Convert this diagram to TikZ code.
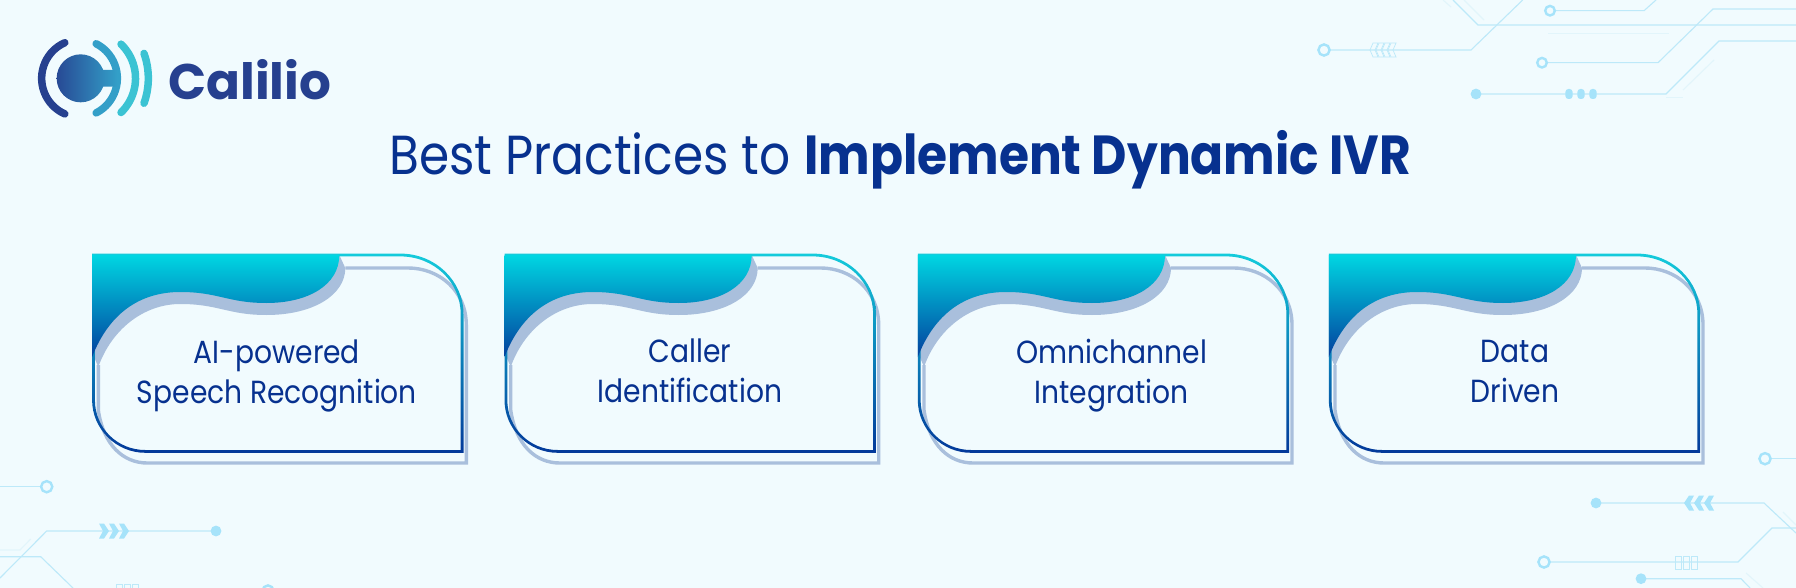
\documentclass[tikz,border=0pt]{standalone}
\usepackage{fontspec}
\setmainfont{Poppins}
\newfontfamily\cardfont[FakeStretch=0.88]{Poppins}
\newfontfamily\titlefont[FakeStretch=0.885]{Poppins}
\newfontfamily\logofont{Poppins}
\definecolor{bgc}{HTML}{F1FBFE}
\definecolor{navy}{HTML}{07318F}
\definecolor{shadowc}{HTML}{A9BFDC}
\definecolor{tealtop}{HTML}{00D6E2}
\definecolor{tealmid}{HTML}{0598BC}
\definecolor{tealbot}{HTML}{03409E}
\definecolor{edgetop}{HTML}{14CBDB}
\definecolor{edgemid}{HTML}{0E8ABF}
\definecolor{edgebot}{HTML}{03399A}
\definecolor{circ}{HTML}{BDE9F9}
\definecolor{circfaint}{HTML}{E2F5FB}
\definecolor{circdot}{HTML}{A6E3FA}
\definecolor{logoblue}{HTML}{26408F}
\definecolor{logomid}{HTML}{339FC8}
\definecolor{logoteal}{HTML}{3BC3D3}
\tikzset{
  circline/.style={draw=circ,line width=1.1pt},
  faintline/.style={draw=circfaint,line width=1.1pt},
  ringdot/.style={draw=circdot,line width=2.4pt,fill=bgc},
  fulldot/.style={fill=circdot},
  chev/.style={fill=circdot},
  glyphbox/.style={draw=circ,line width=.7pt},
  cardtext/.style={anchor=base,text=navy,font=\cardfont\fontsize{32}{32}\selectfont,inner sep=0pt},
  logoarc/.style={line width=7.5pt,line cap=round},
}
\newcommand{\cardbase}[1]{%
  \begin{scope}[shift={(#1,240)}]
    \draw[shadowc,line width=3.4pt] (252,28) -- (315,28) .. controls (345,28) and (373,50) .. (373,85)
      -- (373,223) -- (54,223) .. controls (30,223) and (10,205) .. (5,170) -- (5,125);
    \fill[shadowc] (246,15) -- (252,28) .. controls (252,55) and (220,75) .. (173,75)
      .. controls (135,75) and (125,64) .. (87,64) .. controls (50,64) and (18,90) .. (5,127)
      -- (0,115) -- (0,15) -- cycle;
    \shade[even odd rule,top color=edgetop,middle color=edgemid,bottom color=edgebot]
      (-1.2,13.6) -- (307,13.6) .. controls (342,13.6) and (370.2,41) .. (370.2,74) -- (370.2,212.8) -- (52,212.8)
      .. controls (23,212.8) and (-1.2,189) .. (-1.2,160) -- cycle
      (1.6,16.4) -- (307,16.4) .. controls (340.6,16.4) and (367.4,42) .. (367.4,74) -- (367.4,210) -- (52,210)
      .. controls (24,210) and (1.6,188) .. (1.6,160) -- cycle;
    \shade[top color=tealtop,middle color=tealmid,bottom color=tealbot]
      (-1.2,15) -- (246,15) .. controls (246,45) and (215,63) .. (173,63)
      .. controls (135,63) and (125,52) .. (87,52) .. controls (45,52) and (15,75) .. (-1.2,117) -- cycle;
  \end{scope}}
\begin{document}
\begin{tikzpicture}[x=1pt,y=-1pt]
\path[use as bounding box,fill=bgc] (0,0) rectangle (1796,588);
% circuit decoration, top right
\draw[circline] (1324,50) -- (1471,50) -- (1522.7,0);
\draw[circline] (1550,10.7) -- (1644,10.7) -- (1656,0);
\draw[circline] (1453,0) -- (1478,25) -- (1796,25);
\draw[faintline] (1443,0) -- (1451,7);
\draw[faintline] (1464,0) -- (1484,20);
\draw[faintline] (1548,33.5) -- (1669,33.5);
\draw[circline] (1542,62.7) -- (1658,62.7) -- (1713,9) -- (1796,9);
\draw[circline] (1476,94) -- (1666,94) -- (1719,41) -- (1796,41);
\draw[faintline] (1683,90) -- (1714,60);
\draw[faintline] (1666,97.7) -- (1683,97.7);
\draw[ringdot] (1324,50) circle (5.6);
\draw[ringdot] (1550,10.7) circle (4.8);
\draw[ringdot] (1542,62.7) circle (4.8);
\fill[fulldot] (1476,94) circle (5.4);
\foreach \x in {1569,1581,1593} \fill[fulldot,rounded corners=3pt] (\x-3.6,89) rectangle (\x+3.6,99);
\foreach \x in {1373,1379,1385,1391}
  \draw[glyphbox] (\x,43) -- (\x+5,43) -- (\x+2,50) -- (\x+5,57) -- (\x,57) -- (\x-3,50) -- cycle;
% circuit decoration, bottom right
\draw[circline] (1765,458.7) -- (1796,458.7);
\draw[circline] (1596,503) -- (1764,503) -- (1796,533);
\draw[circline] (1544,562) -- (1738,562) -- (1772,528) -- (1796,528);
\draw[circline] (1641,578.7) -- (1741,578.7) -- (1750,588);
\draw[faintline] (1746,573) -- (1763,588);
\draw[faintline] (1783,512) -- (1796,525);
\draw[ringdot] (1765,458.7) circle (5.6);
\draw[ringdot] (1544,562) circle (5.6);
\fill[fulldot] (1596,503) circle (5.4);
\fill[fulldot] (1641,578.7) circle (5.4);
\foreach \x in {1684,1694,1704}
  \fill[chev] (\x,503) -- (\x+5,495.5) -- (\x+10,495.5) -- (\x+6,503) -- (\x+10,510.5) -- (\x+5,510.5) -- cycle;
\foreach \x in {1675,1683,1691}
  \draw[glyphbox] (\x,556) rectangle (\x+6,569);
% circuit decoration, bottom left
\draw[circline] (0,486.7) -- (46.7,486.7);
\draw[circline] (216,531) -- (46.7,531) -- (0,578);
\draw[circline] (0,556.7) -- (40.7,556.7) -- (73,588);
\draw[faintline] (0,550) -- (20,550) -- (30.7,539);
\draw[ringdot] (46.7,486.7) circle (5.6);
\draw[ringdot] (268,591) circle (5.6);
\fill[fulldot] (216,531) circle (5.4);
\foreach \x in {99,109,119}
  \fill[chev] (\x+10,531) -- (\x+5,523.5) -- (\x,523.5) -- (\x+4,531) -- (\x,538.5) -- (\x+5,538.5) -- cycle;
\foreach \x in {116,124,132}
  \draw[glyphbox] (\x,584) rectangle (\x+6,596);
% logo
\begin{scope}[shift={(20,20)},x=0.3333pt,y=-0.3333pt]
  \draw[logoarc,logoblue] (182,175) ++(114:117) arc (114:246:117);
  \draw[logoarc,logomid] (175.5,175) ++(63:116.5) arc (63:-63:116.5);
  \draw[logoarc,logoteal] (204,175) ++(46:142.6) arc (46:-46:142.6);
  \draw[logoarc,logoteal] (162,175) ++(19.6:223) arc (19.6:-19.6:223);
  \shade[left color=logoblue!90!logomid,right color=logomid]
    (182,175) circle (72) (292,150) rectangle (230,200);
\end{scope}
\node[anchor=base west,inner sep=0pt,text=logoblue,font=\logofont\bfseries\fontsize{50}{50}\selectfont] (logoname) at (168,100) {Calilio};
% title
\node[anchor=base west,inner sep=0pt,text=navy,font=\titlefont\fontsize{55}{55}\selectfont] (titlea) at (389,175) {Best Practices to};
\node[anchor=base west,inner sep=0pt,text=navy,font=\titlefont\bfseries\fontsize{55}{55}\selectfont] (titleb) at (804,175) {Implement Dynamic IVR};
% cards
\cardbase{93.3}
\cardbase{505.7}
\cardbase{919}
\cardbase{1330}
\node[cardtext] (c1a) at (277,363) {AI-powered};
\node[cardtext] (c1b) at (277,403) {Speech Recognition};
\node[cardtext] (c2a) at (690,362) {Caller};
\node[cardtext] (c2b) at (690,402) {Identification};
\node[cardtext] (c3a) at (1111.7,363) {Omnichannel};
\node[cardtext] (c3b) at (1111.7,403) {Integration};
\node[cardtext] (c4a) at (1515,362.7) {Data};
\node[cardtext] (c4b) at (1515,402) {Driven};
\end{tikzpicture}
\end{document}
